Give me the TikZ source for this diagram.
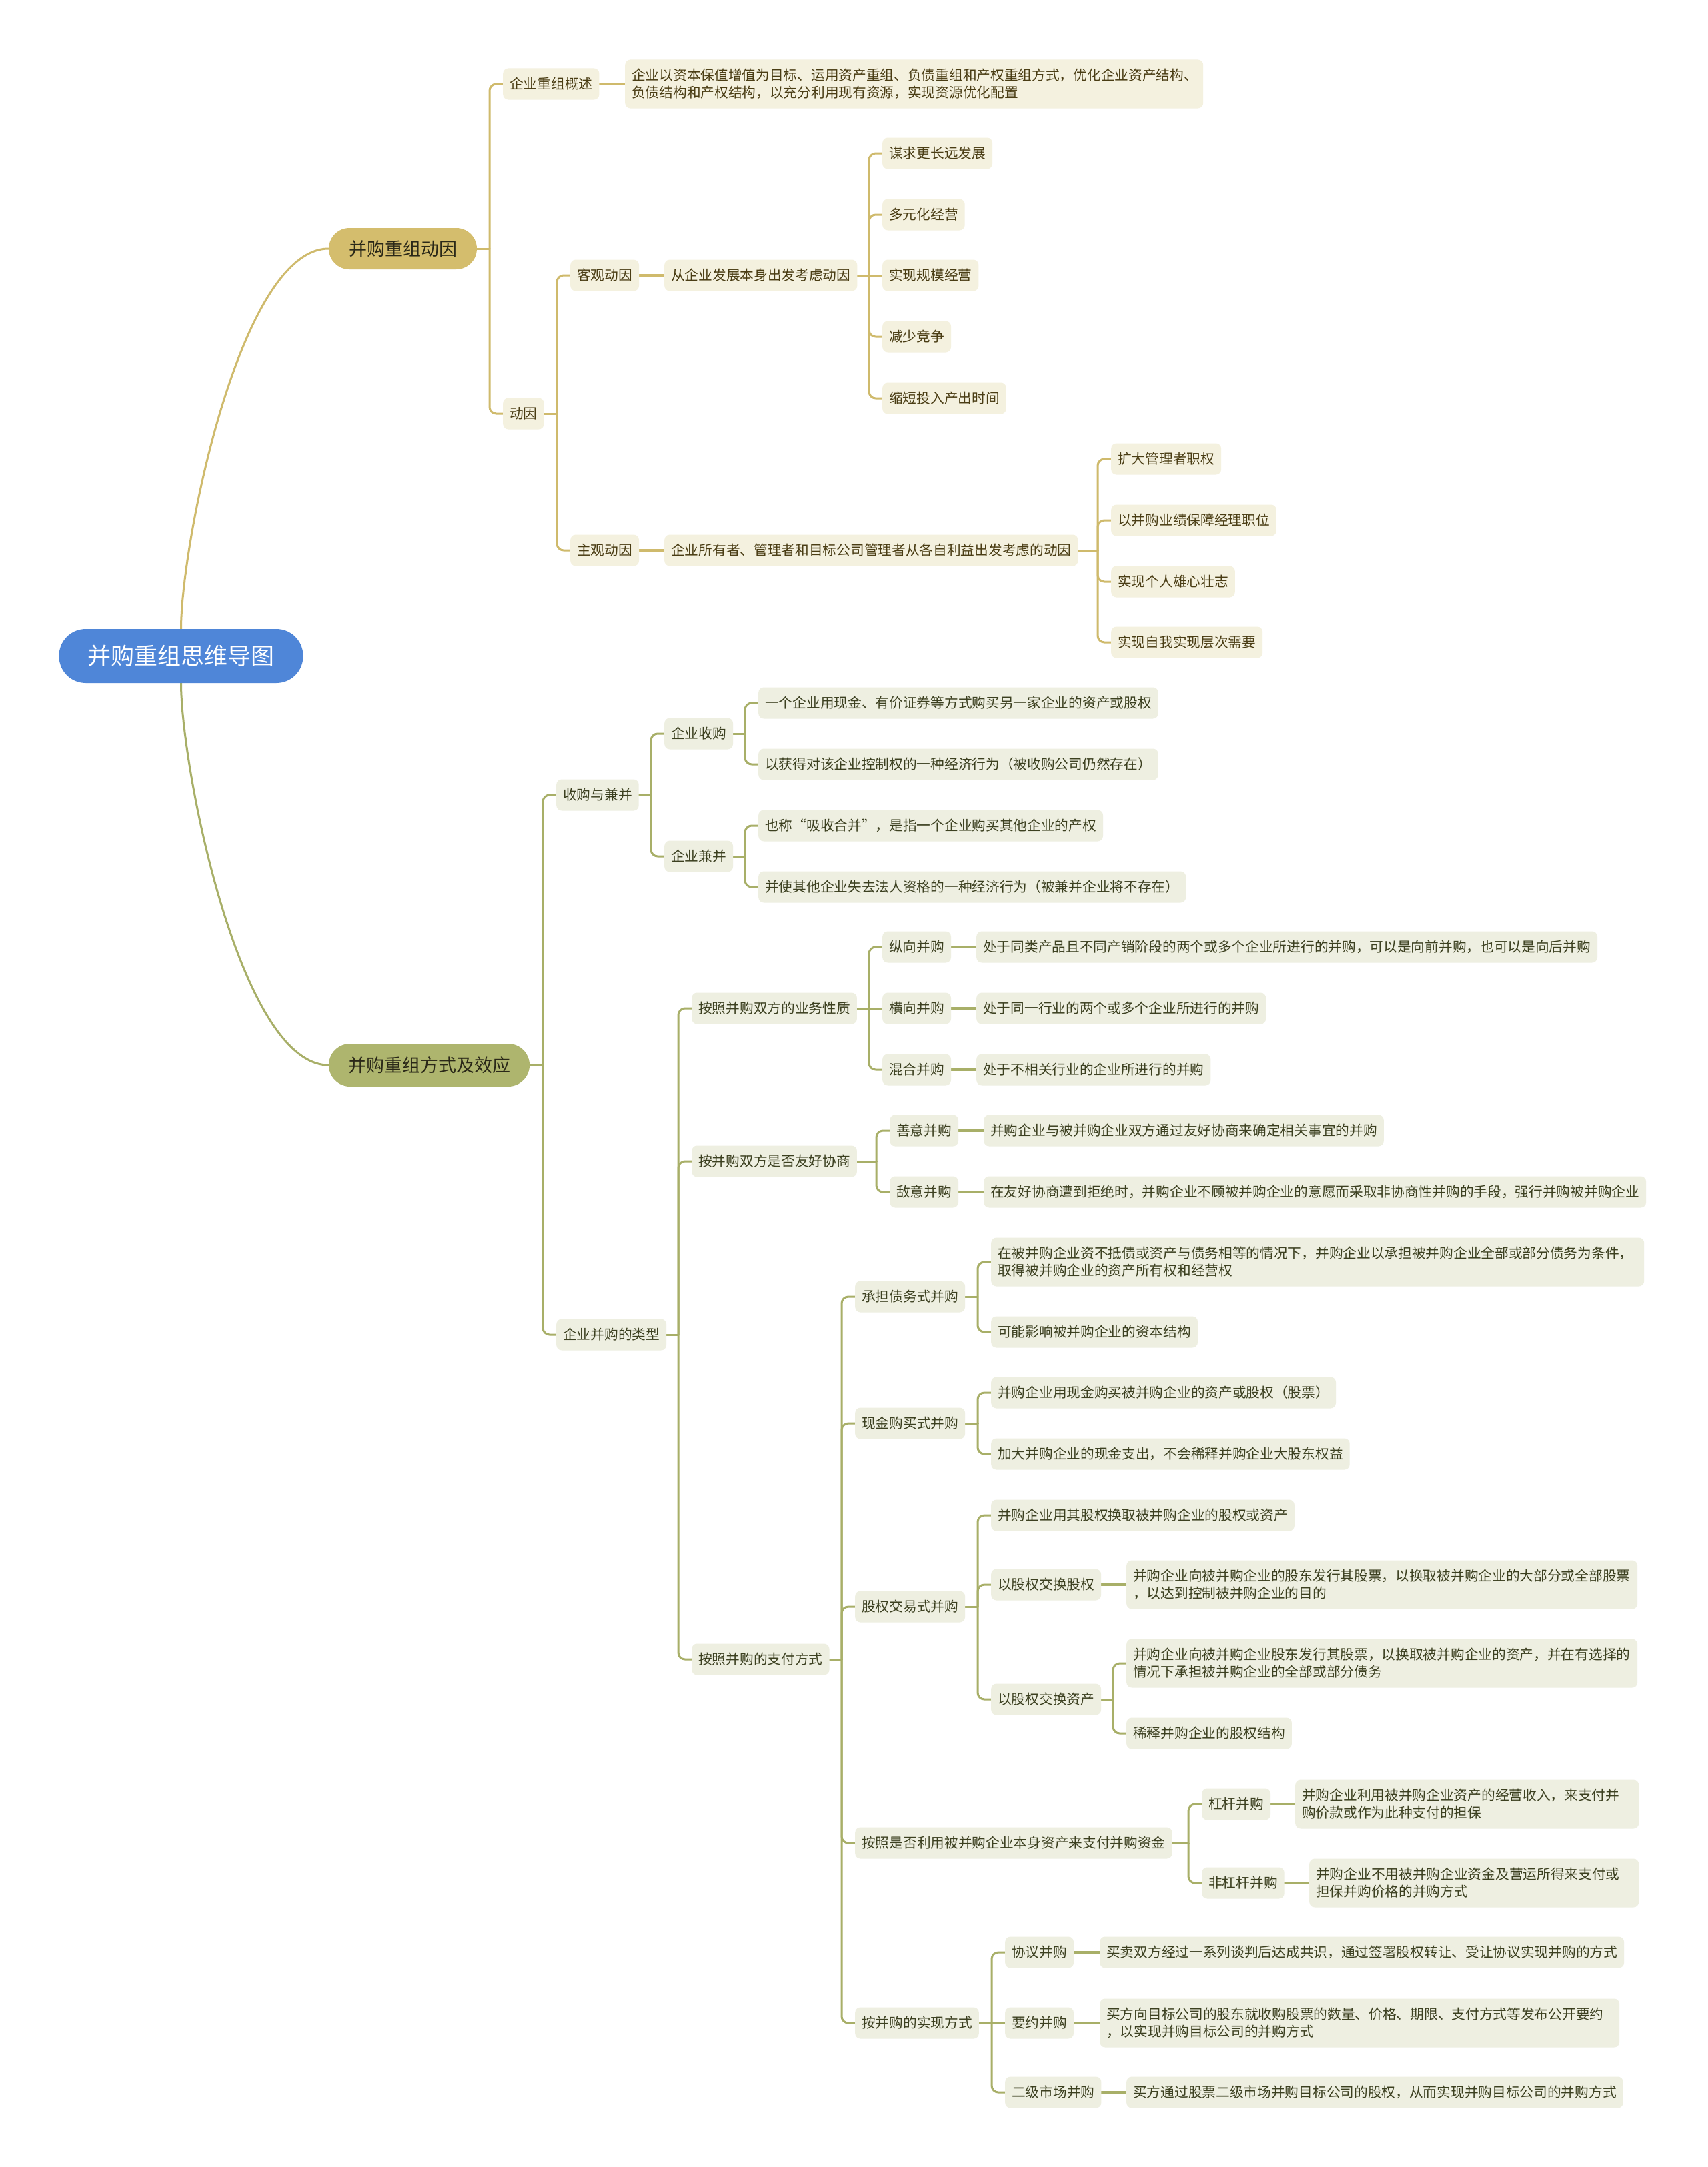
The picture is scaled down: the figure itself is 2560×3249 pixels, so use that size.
\documentclass[tikz,border=0pt]{standalone}
\usepackage{fontspec}
\newfontfamily\cjk{Noto Sans CJK SC}
\usetikzlibrary{calc}
\definecolor{rootblue}{HTML}{4F86D8}
\definecolor{goldpill}{HTML}{D4BD6D}
\definecolor{goldline}{HTML}{CFBA6C}
\definecolor{goldsub}{HTML}{F4F1DF}
\definecolor{goldtxt}{HTML}{4A3D14}
\definecolor{olivepill}{HTML}{AEB56E}
\definecolor{oliveline}{HTML}{A8AF68}
\definecolor{olivesub}{HTML}{EEEFE1}
\definecolor{olivetxt}{HTML}{3C4020}
\definecolor{pilltxt}{HTML}{2A2818}
\pgfdeclarelayer{bg}
\pgfsetlayers{bg,main}
\tikzset{
  rootnode/.style={fill=rootblue, rounded corners=40pt, minimum width=366pt, minimum height=81pt,
    inner sep=0pt, text=white, font=\cjk\fontsize{35}{40}\selectfont},
  pillgold/.style={fill=goldpill, rounded corners=31pt, minimum width=222pt, minimum height=62pt,
    inner sep=0pt, text=pilltxt, font=\cjk\fontsize{27}{32}\selectfont},
  pillolive/.style={fill=olivepill, rounded corners=32pt, minimum width=301pt, minimum height=64pt,
    inner sep=0pt, text=pilltxt, font=\cjk\fontsize{27}{32}\selectfont},
  boxbase/.style={anchor=west, rounded corners=8pt, inner xsep=10pt, inner ysep=0pt,
    minimum height=47pt, font=\cjk\fontsize{20.7}{26}\selectfont, align=left},
  gb/.style={boxbase, fill=goldsub, text=goldtxt},
  ob/.style={boxbase, fill=olivesub, text=olivetxt},
  twoline/.style={minimum height=73pt, text width=#1},
  gl/.style={draw=goldline, line width=3pt, rounded corners=10pt, line cap=round},
  ol/.style={draw=oliveline, line width=3pt, rounded corners=10pt, line cap=round},
  thick stub/.style={line width=4.5pt},
}
% elbow connector: style, parent, child
\newcommand\kid[3]{%
  \draw[#1,rounded corners=0pt] (#2.east) -- ($(#3.west |- #2.east)+(-20,0)$);
  \draw[#1] ($(#3.west |- #2.east)+(-20,0)$) -- ($(#3.west)+(-20,0)$) -- (#3.west);}
% straight connector: style, parent, child
\newcommand\kidst[3]{\draw[#1,rounded corners=0pt] (#2.east) -- (#3.west);}
\newcommand\one[3]{\draw[#1,thick stub,rounded corners=0pt] (#2.east) -- (#3.west);}

\begin{document}
\begin{tikzpicture}[x=1pt,y=-1pt]
\useasboundingbox (0,0) rectangle (2560,3249);

% ---------- root and main branches ----------
\node[rootnode] (r) at (271.5,983.5) {并购重组思维导图};
\node[pillgold] (b1) at (604,373) {并购重组动因};
\node[pillolive] (b2) at (643.5,1597) {并购重组方式及效应};

% ---------- branch 1 ----------
\node[gb] (a1) at (754,126) {企业重组概述};
\node[gb,twoline=847pt] (a1t) at (937,126) {企业以资本保值增值为目标、运用资产重组、负债重组和产权重组方式，优化企业资产结构、\\负债结构和产权结构，以充分利用现有资源，实现资源优化配置};
\node[gb] (a2) at (754,620) {动因};
\node[gb] (a21) at (855,413) {客观动因};
\node[gb] (a211) at (996,413) {从企业发展本身出发考虑动因};
\node[gb] (a2111) at (1323,230) {谋求更长远发展};
\node[gb] (a2112) at (1323,322) {多元化经营};
\node[gb] (a2113) at (1323,413) {实现规模经营};
\node[gb] (a2114) at (1323,505) {减少竞争};
\node[gb] (a2115) at (1323,597) {缩短投入产出时间};
\node[gb] (a22) at (855,825) {主观动因};
\node[gb] (a221) at (996,825) {企业所有者、管理者和目标公司管理者从各自利益出发考虑的动因};
\node[gb] (a2211) at (1666,688) {扩大管理者职权};
\node[gb] (a2212) at (1666,780) {以并购业绩保障经理职位};
\node[gb] (a2213) at (1666,872) {实现个人雄心壮志};
\node[gb] (a2214) at (1666,963) {实现自我实现层次需要};

% ---------- branch 2 ----------
\node[ob] (c1) at (834,1192) {收购与兼并};
\node[ob] (c11) at (996,1100) {企业收购};
\node[ob] (c111) at (1137,1054) {一个企业用现金、有价证券等方式购买另一家企业的资产或股权};
\node[ob] (c112) at (1137,1146) {以获得对该企业控制权的一种经济行为（被收购公司仍然存在）};
\node[ob] (c12) at (996,1284) {企业兼并};
\node[ob] (c121) at (1137,1238) {也称“吸收合并”，是指一个企业购买其他企业的产权};
\node[ob] (c122) at (1137,1330) {并使其他企业失去法人资格的一种经济行为（被兼并企业将不存在）};

\node[ob] (c2) at (834,2001) {企业并购的类型};
\node[ob] (d1) at (1037,1512) {按照并购双方的业务性质};
\node[ob] (d11) at (1323,1420) {纵向并购};
\node[ob] (d11t) at (1464,1420) {处于同类产品且不同产销阶段的两个或多个企业所进行的并购，可以是向前并购，也可以是向后并购};
\node[ob] (d12) at (1323,1512) {横向并购};
\node[ob] (d12t) at (1464,1512) {处于同一行业的两个或多个企业所进行的并购};
\node[ob] (d13) at (1323,1604) {混合并购};
\node[ob] (d13t) at (1464,1604) {处于不相关行业的企业所进行的并购};

\node[ob] (d2) at (1037,1741) {按并购双方是否友好协商};
\node[ob] (d21) at (1334,1695) {善意并购};
\node[ob] (d21t) at (1475,1695) {并购企业与被并购企业双方通过友好协商来确定相关事宜的并购};
\node[ob] (d22) at (1334,1787) {敌意并购};
\node[ob] (d22t) at (1475,1787) {在友好协商遭到拒绝时，并购企业不顾被并购企业的意愿而采取非协商性并购的手段，强行并购被并购企业};

\node[ob] (d3) at (1037,2488) {按照并购的支付方式};
\node[ob] (e1) at (1282,1944) {承担债务式并购};
\node[ob,twoline=959pt] (e11) at (1486,1892) {在被并购企业资不抵债或资产与债务相等的情况下，并购企业以承担被并购企业全部或部分债务为条件，\\取得被并购企业的资产所有权和经营权};
\node[ob] (e12) at (1486,1997) {可能影响被并购企业的资本结构};
\node[ob] (e2) at (1282,2134) {现金购买式并购};
\node[ob] (e21) at (1486,2088) {并购企业用现金购买被并购企业的资产或股权（股票）};
\node[ob] (e22) at (1486,2180) {加大并购企业的现金支出，不会稀释并购企业大股东权益};
\node[ob] (e3) at (1282,2409) {股权交易式并购};
\node[ob] (e31) at (1486,2272) {并购企业用其股权换取被并购企业的股权或资产};
\node[ob] (e32) at (1486,2376) {以股权交换股权};
\node[ob,twoline=746pt] (e32t) at (1689,2376) {并购企业向被并购企业的股东发行其股票，以换取被并购企业的大部分或全部股票\\，以达到控制被并购企业的目的};
\node[ob] (e33) at (1486,2548) {以股权交换资产};
\node[ob,twoline=746pt] (e331) at (1689,2494) {并购企业向被并购企业股东发行其股票，以换取被并购企业的资产，并在有选择的\\情况下承担被并购企业的全部或部分债务};
\node[ob] (e332) at (1689,2599) {稀释并购企业的股权结构};
\node[ob] (e4) at (1282,2763) {按照是否利用被并购企业本身资产来支付并购资金};
\node[ob] (e41) at (1802,2705) {杠杆并购};
\node[ob,twoline=495pt] (e41t) at (1942,2705) {并购企业利用被并购企业资产的经营收入，来支付并\\购价款或作为此种支付的担保};
\node[ob] (e42) at (1802,2823) {非杠杆并购};
\node[ob,twoline=474pt] (e42t) at (1963,2823) {并购企业不用被并购企业资金及营运所得来支付或\\担保并购价格的并购方式};
\node[ob] (e5) at (1282,3033) {按并购的实现方式};
\node[ob] (e51) at (1507,2927) {协议并购};
\node[ob] (e51t) at (1649,2927) {买卖双方经过一系列谈判后达成共识，通过签署股权转让、受让协议实现并购的方式};
\node[ob] (e52) at (1507,3033) {要约并购};
\node[ob,twoline=759pt] (e52t) at (1649,3033) {买方向目标公司的股东就收购股票的数量、价格、期限、支付方式等发布公开要约\\，以实现并购目标公司的并购方式};
\node[ob] (e53) at (1507,3137) {二级市场并购};
\node[ob] (e53t) at (1689,3137) {买方通过股票二级市场并购目标公司的股权，从而实现并购目标公司的并购方式};

% ---------- connectors ----------
\begin{pgfonlayer}{bg}
\fill[white] (0,0) rectangle (2560,3249);
\draw[gl,rounded corners=0pt] (r.north) .. controls ($(r.north)+(0,-126)$) and ($(b1.west)+(-133,0)$) .. (b1.west);
\draw[ol,rounded corners=0pt] (r.south) .. controls ($(r.south)+(0,126)$) and ($(b2.west)+(-133,0)$) .. (b2.west);

\kid{gl}{b1}{a1}
\kid{gl}{b1}{a2}
\one{gl}{a1}{a1t}
\kid{gl}{a2}{a21}
\kid{gl}{a2}{a22}
\one{gl}{a21}{a211}
\kid{gl}{a211}{a2111}
\kid{gl}{a211}{a2112}
\kidst{gl}{a211}{a2113}
\kid{gl}{a211}{a2114}
\kid{gl}{a211}{a2115}
\one{gl}{a22}{a221}
\kid{gl}{a221}{a2211}
\kid{gl}{a221}{a2212}
\kid{gl}{a221}{a2213}
\kid{gl}{a221}{a2214}

\kid{ol}{b2}{c1}
\kid{ol}{b2}{c2}
\kid{ol}{c1}{c11}
\kid{ol}{c1}{c12}
\kid{ol}{c11}{c111}
\kid{ol}{c11}{c112}
\kid{ol}{c12}{c121}
\kid{ol}{c12}{c122}
\kid{ol}{c2}{d1}
\kid{ol}{c2}{d2}
\kid{ol}{c2}{d3}
\kid{ol}{d1}{d11}
\kidst{ol}{d1}{d12}
\kid{ol}{d1}{d13}
\one{ol}{d11}{d11t}
\one{ol}{d12}{d12t}
\one{ol}{d13}{d13t}
\kid{ol}{d2}{d21}
\kid{ol}{d2}{d22}
\one{ol}{d21}{d21t}
\one{ol}{d22}{d22t}
\kid{ol}{d3}{e1}
\kid{ol}{d3}{e2}
\kid{ol}{d3}{e3}
\kid{ol}{d3}{e4}
\kid{ol}{d3}{e5}
\kid{ol}{e1}{e11}
\kid{ol}{e1}{e12}
\kid{ol}{e2}{e21}
\kid{ol}{e2}{e22}
\kid{ol}{e3}{e31}
\kid{ol}{e3}{e32}
\kid{ol}{e3}{e33}
\one{ol}{e32}{e32t}
\kid{ol}{e33}{e331}
\kid{ol}{e33}{e332}
\kid{ol}{e4}{e41}
\kid{ol}{e4}{e42}
\one{ol}{e41}{e41t}
\one{ol}{e42}{e42t}
\kid{ol}{e5}{e51}
\kidst{ol}{e5}{e52}
\kid{ol}{e5}{e53}
\one{ol}{e51}{e51t}
\one{ol}{e52}{e52t}
\one{ol}{e53}{e53t}
\end{pgfonlayer}
\end{tikzpicture}
\end{document}
